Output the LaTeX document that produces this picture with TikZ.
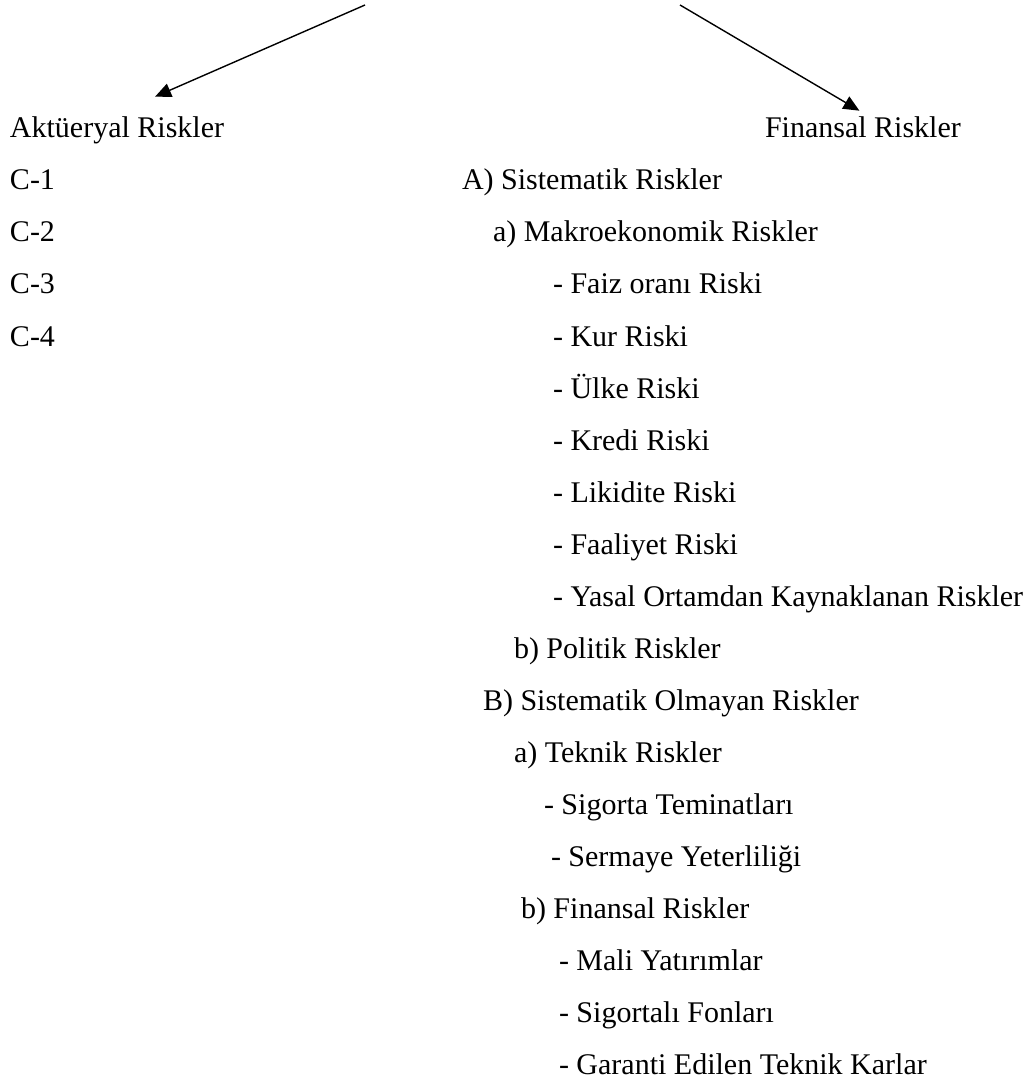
\documentclass[tikz,border=0pt]{standalone}
\usepackage{fontspec}
\setmainfont{Liberation Serif}
\usetikzlibrary{arrows.meta, positioning}

\begin{document}
\begin{tikzpicture}[
    x=0.5pt, y=-0.5pt,
    font=\fontsize{15pt}{18pt}\selectfont,
    % Estilos de Nodos
    item/.style={anchor=base west, inner sep=0pt, outer sep=0pt},
    % Estilos de Flechas
    arrow/.style={-{Triangle[length=8pt, width=7pt]}, line width=0.7pt, draw=black}
]
\useasboundingbox (0,0) rectangle (1034,1080);

% 1. Origen de las flechas (arriba)
\coordinate (ltop) at (365,5);
\coordinate (rtop) at (680,5);

% 2. Columna izquierda
\node[item] (akt) at (10,138) {Aktüeryal Riskler};
\node[item, below=26pt of akt.base west, anchor=base west] (c1) {C-1};
\node[item, below=26pt of c1.base west, anchor=base west] (c2) {C-2};
\node[item, below=26pt of c2.base west, anchor=base west] (c3) {C-3};
\node[item, below=26pt of c3.base west, anchor=base west] (c4) {C-4};

% 3. Columna derecha
\node[item] (fin) at (765,138) {Finansal Riskler};
\node[item] (sisA) at (462,190) {A) Sistematik Riskler};
\node[item] (makro) at (493,242) {a) Makroekonomik Riskler};
\node[item] (faiz) at (553,294) {- Faiz oranı Riski};
\node[item] (kur) at (553,346) {- Kur Riski};
\node[item] (ulke) at (553,398) {- Ülke Riski};
\node[item] (kredi) at (553,450) {- Kredi Riski};
\node[item] (likit) at (553,502) {- Likidite Riski};
\node[item] (faal) at (553,554) {- Faaliyet Riski};
\node[item] (yasal) at (553,606) {- Yasal Ortamdan Kaynaklanan Riskler};
\node[item] (polit) at (514,658) {b) Politik Riskler};
\node[item] (sisB) at (483,710) {B) Sistematik Olmayan Riskler};
\node[item] (tekn) at (514,762) {a) Teknik Riskler};
\node[item] (temin) at (544,814) {- Sigorta Teminatları};
\node[item] (serm) at (551,866) {- Sermaye Yeterliliği};
\node[item] (finB) at (521,918) {b) Finansal Riskler};
\node[item] (mali) at (559,970) {- Mali Yatırımlar};
\node[item] (fonlar) at (559,1022) {- Sigortalı Fonları};
\node[item] (karlar) at (559,1074) {- Garanti Edilen Teknik Karlar};

% 4. Flechas
\draw[arrow] (ltop) -- ([xshift=19pt, yshift=10.25pt]akt.north);
\draw[arrow] (rtop) -- ([xshift=-1.75pt, yshift=3.25pt]fin.north);

\end{tikzpicture}
\end{document}
